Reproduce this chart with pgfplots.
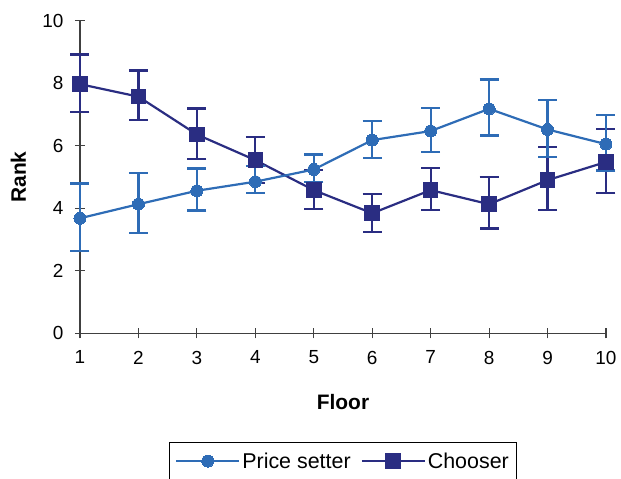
\documentclass[border=0pt]{standalone}
\usepackage{pgfplots}
\pgfplotsset{compat=1.18}
\usepackage{pgfplotstable}
\usepackage{fontspec}
\setmainfont{Liberation Sans}
\definecolor{ps}{RGB}{46,108,182}
\definecolor{ch}{RGB}{42,45,130}

\pgfplotstableread{
x y ep em
1 3.68 1.11 1.05
2 4.13 1.00 0.92
3 4.56 0.71 0.63
4 4.85 0.51 0.36
5 5.24 0.48 0.39
6 6.18 0.61 0.56
7 6.47 0.74 0.67
8 7.18 0.94 0.85
9 6.52 0.94 0.87
10 6.05 0.94 0.84
}\pricetab
\pgfplotstableread{
x y ep em
1 7.97 0.95 0.90
2 7.57 0.84 0.74
3 6.36 0.83 0.78
4 5.54 0.74 0.74
5 4.58 0.64 0.60
6 3.84 0.61 0.59
7 4.58 0.71 0.64
8 4.13 0.88 0.78
9 4.90 1.07 0.96
10 5.48 1.06 0.98
}\choosetab

\begin{document}
\begin{tikzpicture}[x=1bp,y=1bp]
\begin{axis}[
  scale only axis, width=526bp, height=312.6bp,
  xmin=1, xmax=10, ymin=0, ymax=10,
  axis x line*=bottom, axis y line*=left,
  axis line style={line width=1.2bp, black!75, -},
  xtick={1,...,10}, ytick={0,2,...,10},
  tick align=center, major tick length=10bp,
  tick style={line width=1.2bp, black!75},
  /pgf/number format/assume math mode=true,
  ticklabel style={font=\fontsize{19}{21}\selectfont},
  yticklabel style={xshift=-8bp},
  xticklabel style={yshift=-9bp},
  xlabel={\textbf{Floor}}, ylabel={\textbf{Rank}},
  every axis x label/.style={at={(axis description cs:0.5,-0.22)}, anchor=center, font=\fontsize{21}{24}\selectfont},
  every axis y label/.style={at={(axis description cs:-0.117,0.5)}, rotate=90, anchor=center, font=\fontsize{21}{24}\selectfont},
  clip=false,
  reverse legend,
  legend columns=2,
  legend style={at={(0.5,-0.348)}, anchor=north, draw=black, line width=1bp,
    font=\fontsize{21.5}{25}\selectfont, inner xsep=6bp, inner ysep=8bp,
    /tikz/every even column/.append style={column sep=8bp}},
  legend image code/.code={\draw[mark repeat=2,mark phase=2] plot coordinates {(0bp,0bp) (31.5bp,0bp) (63bp,0bp)};},
]
\addplot[ch, line width=2.2bp, mark=square*, mark size=7.3bp, mark options={solid, fill=ch, draw=ch, line width=0bp},
  error bars/.cd, y dir=both, y explicit,
  error bar style={line width=2.2bp, ch},
  error mark options={rotate=90, mark size=9.5bp, line width=2.2bp, ch}]
  table[x=x, y=y, y error plus=ep, y error minus=em] {\choosetab};
\addlegendentry{Chooser}
\addplot[ps, line width=2.2bp, mark=*, mark size=6bp, mark options={solid, fill=ps, draw=ps, line width=0bp},
  error bars/.cd, y dir=both, y explicit,
  error bar style={line width=2.2bp, ps},
  error mark options={rotate=90, mark size=9.5bp, line width=2.2bp, ps}]
  table[x=x, y=y, y error plus=ep, y error minus=em] {\pricetab};
\addlegendentry{Price setter}
\end{axis}
\pgfresetboundingbox
\useasboundingbox (-80bp,-145.7bp) rectangle (541bp,333.3bp);
\end{tikzpicture}
\end{document}
